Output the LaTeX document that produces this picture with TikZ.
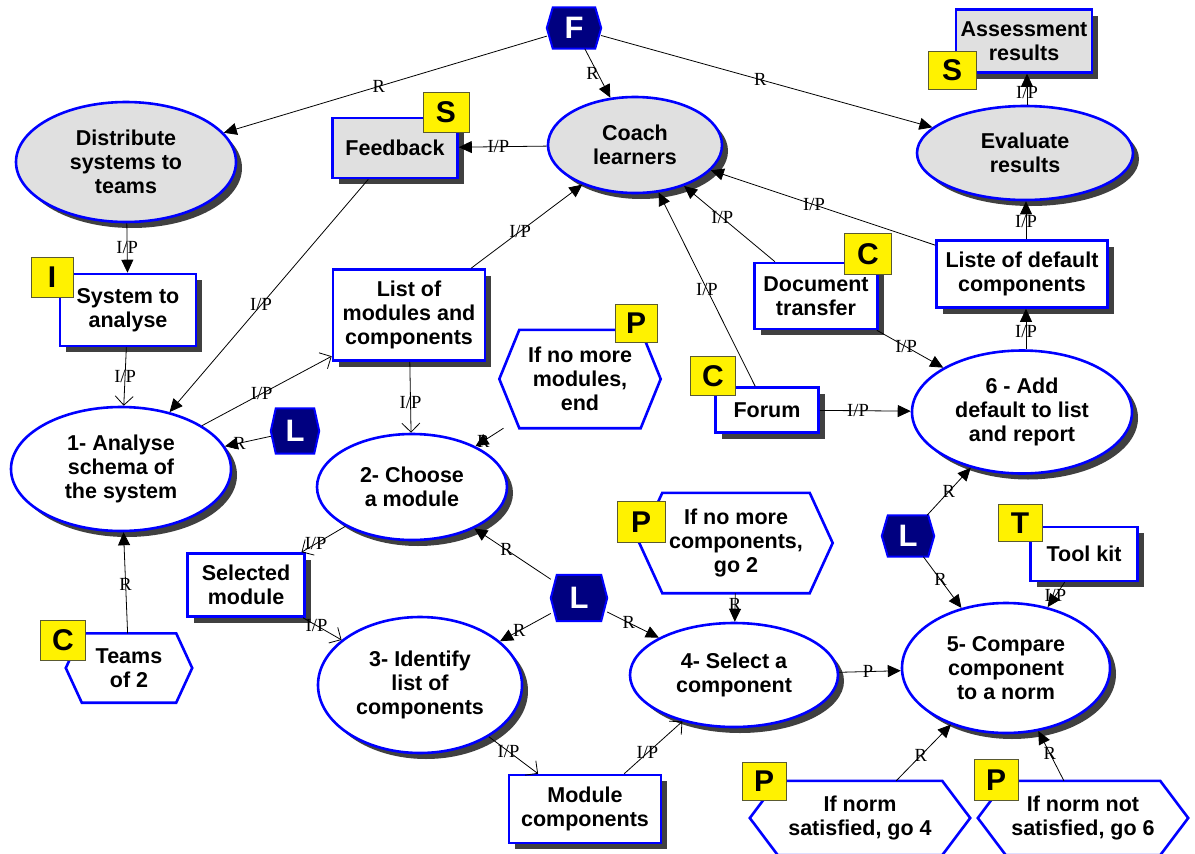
\documentclass[tikz,border=0pt]{standalone}
\usepackage{fontspec}
\setmainfont{Liberation Sans}
\newfontfamily\lblfont{Liberation Serif}
\usetikzlibrary{shapes.geometric,shadows,arrows.meta,backgrounds}
\definecolor{shgray}{HTML}{404040}
\definecolor{procgray}{HTML}{E0E0E0}
\definecolor{navyfill}{HTML}{000080}
\definecolor{boxblue}{HTML}{0000FF}
\definecolor{tagedge}{HTML}{5A5A30}
\newcommand{\hexoutline}[3]{%
  \draw[#3] (#1.west) -- ([xshift=#2]#1.north west) -- ([xshift=-#2]#1.north east)
    -- (#1.east) -- ([xshift=-#2]#1.south east) -- ([xshift=#2]#1.south west) -- cycle;}
\begin{document}
\begin{tikzpicture}[x=1pt,y=-1pt,
  txt/.style={font=\fontsize{21.5}{24}\selectfont\bfseries, align=center, text=black},
  shad/.style={drop shadow={shadow xshift=6pt, shadow yshift=-6pt, fill=shgray, opacity=1, draw=none}},
  procw/.style={ellipse, draw=boxblue, line width=2.6pt, fill=white, inner sep=0pt, txt, shad},
  procg/.style={procw, fill=procgray},
  boxw/.style={rectangle, draw=boxblue, line width=2.6pt, fill=white, inner sep=0pt, txt, shad},
  boxg/.style={boxw, fill=procgray},
  hexn/.style={rectangle, inner sep=0pt, txt},
  hexline/.style={draw=boxblue, line width=2.6pt, fill=white, line join=miter},
  dhexn/.style={rectangle, inner sep=0pt, text=white, font=\fontsize{31}{31}\selectfont\bfseries},
  dhexline/.style={draw=boxblue, line width=2pt, fill=navyfill},
  tag/.style={rectangle, draw=tagedge, line width=0.9pt, fill=yellow, inner sep=0pt, text=black, font=\fontsize{30}{30}\selectfont\bfseries},
  con/.style={draw=black, line width=0.8pt},
  fa/.style={con, -{Triangle[length=13pt,width=12pt]}},
  oa/.style={con, -{Straight Barb[length=9pt,width=18pt,line width=0.8pt]}},
  lbl/.style={font=\lblfont\fontsize{18.5}{18.5}\selectfont, inner sep=0pt, text=black},
]
\useasboundingbox (0,0) rectangle (1195,854);

% ---------- processes (ellipses)
\node[procg, minimum width=220pt, minimum height=120pt] (dist) at (126,162) {Distribute\\systems to\\teams};
\node[procg, minimum width=174pt, minimum height=96pt] (coach) at (635,145) {Coach\\learners};
\node[procg, minimum width=216pt, minimum height=94pt] (eval) at (1025,153) {Evaluate\\results};
\node[procw, minimum width=220pt, minimum height=124pt] (analyse) at (121,469) {1- Analyse\\schema of\\the system};
\node[procw, minimum width=190pt, minimum height=106pt] (choose) at (412,487) {2- Choose\\a module};
\node[procw, minimum width=204pt, minimum height=136pt] (ident) at (420,685) {3- Identify\\list of\\components};
\node[procw, minimum width=208pt, minimum height=104pt] (select) at (734,675) {4- Select a\\component};
\node[procw, minimum width=208pt, minimum height=130pt] (compare) at (1006,668) {5- Compare\\component\\to a norm};
\node[procw, minimum width=220pt, minimum height=123pt] (adddef) at (1022,412) {6 - Add\\default to list\\and report};

% ---------- boxes
\node[boxg, minimum width=125pt, minimum height=60pt] (feedback) at (395,148) {Feedback};
\node[boxg, minimum width=136pt, minimum height=63pt] (assess) at (1024,41) {Assessment\\results};
\node[boxw, minimum width=136pt, minimum height=72pt] (system) at (128,310) {System to\\analyse};
\node[boxw, minimum width=152pt, minimum height=91pt] (listmod) at (409,315) {List of\\modules and\\components};
\node[boxw, minimum width=123pt, minimum height=66pt] (doctr) at (816,296) {Document\\transfer};
\node[boxw, minimum width=171pt, minimum height=67pt] (liste) at (1022,274) {Liste of default\\components};
\node[boxw, minimum width=103pt, minimum height=45pt] (forum) at (767,410) {Forum};
\node[boxw, minimum width=117pt, minimum height=63pt] (selmod) at (246,585) {Selected\\module};
\node[boxw, minimum width=152pt, minimum height=68pt] (modcomp) at (585,809) {Module\\components};
\node[boxw, minimum width=107pt, minimum height=54pt] (toolkit) at (1084,554) {Tool kit};

% ---------- hexagon nodes
\node[hexn, minimum width=161pt, minimum height=98pt] (hexmod) at (580,379) {If no more\\modules,\\end};
\node[hexn, minimum width=193pt, minimum height=100pt] (hexcomp) at (736,543) {If no more\\components,\\go 2};
\node[hexn, minimum width=126pt, minimum height=69pt] (teams) at (129,668) {Teams\\of 2};
\node[hexn, minimum width=220pt, minimum height=74pt] (normsat) at (860,818) {If norm\\satisfied, go 4};
\node[hexn, minimum width=210pt, minimum height=74pt] (normnot) at (1083,818) {If norm not\\satisfied, go 6};

\node[dhexn, minimum width=54pt, minimum height=41pt] (F) at (574,28) {F};
\node[dhexn, minimum width=48pt, minimum height=45pt] (L1) at (295,431) {L};
\node[dhexn, minimum width=56pt, minimum height=46pt] (L2) at (579,598) {L};
\node[dhexn, minimum width=52pt, minimum height=41pt] (L3) at (908,536) {L};

\begin{scope}[on background layer]
\fill[white] (0,0) rectangle (1195,854);
\hexoutline{hexmod}{20pt}{hexline}
\hexoutline{hexcomp}{23pt}{hexline}
\hexoutline{teams}{16pt}{hexline}
\hexoutline{normsat}{28pt}{hexline}
\hexoutline{normnot}{28pt}{hexline}
\hexoutline{F}{6pt}{dhexline}
\hexoutline{L1}{5pt}{dhexline}
\hexoutline{L2}{6pt}{dhexline}
\hexoutline{L3}{6pt}{dhexline}
\end{scope}

% ---------- connectors
\draw[fa] (F) -- node[lbl,pos=0.52]{R} (dist);
\draw[fa] (F) -- node[lbl,pos=0.5,xshift=-5pt]{R} (coach);
\draw[fa] (F) -- node[lbl,pos=0.48]{R} (eval);
\draw[fa] (coach) -- node[lbl,pos=0.55]{I/P} (feedback);
\draw[fa] (feedback) -- node[lbl,pos=0.54]{I/P} (analyse);
\draw[fa] (dist) -- node[lbl,pos=0.48]{I/P} (system);
\draw[oa] (system) -- node[lbl]{I/P} (analyse);
\draw[oa] (analyse) -- node[lbl,pos=0.46]{I/P} (listmod);
\draw[fa] (L1) -- node[lbl,pos=0.68]{R} (analyse);
\draw[fa] (listmod) -- node[lbl,pos=0.44]{I/P} (coach);
\draw[oa] (listmod) -- node[lbl,pos=0.57]{I/P} (choose);
\draw[fa] (hexmod) -- node[lbl,pos=0.72]{R} (choose);
\draw[oa] (choose) -- node[lbl,pos=0.68]{I/P} (selmod);
\draw[oa] (selmod) -- node[lbl,pos=0.35]{I/P} (ident);
\draw[fa] (teams) -- node[lbl,pos=0.48]{R} (analyse);
\draw[fa] (L2) -- node[lbl,pos=0.58]{R} (choose);
\draw[fa] (L2) -- node[lbl,pos=0.62]{R} (ident);
\draw[fa] (L2) -- node[lbl,pos=0.42]{R} (select);
\draw[fa] (hexcomp) -- node[lbl,pos=0.4]{R} (select);
\draw[oa] (ident) -- node[lbl,pos=0.4]{I/P} (modcomp);
\draw[oa] (modcomp) -- node[lbl,pos=0.4]{I/P} (select);
\draw[fa] (select) -- node[lbl,pos=0.47]{P} (compare);
\draw[fa] (forum) -- node[lbl]{I/P} (coach);
\draw[fa] (doctr) -- node[lbl,pos=0.58]{I/P} (coach);
\draw[fa] (liste) -- node[lbl,pos=0.54]{I/P} (coach);
\draw[fa] (doctr) -- node[lbl,pos=0.44]{I/P} (adddef);
\draw[fa] (forum) -- node[lbl,pos=0.42]{I/P} (adddef);
\draw[fa] ([xshift=4pt]adddef.north) -- node[lbl,pos=0.44]{I/P} ([xshift=4pt]liste.south);
\draw[fa] ([xshift=4pt]liste.north) -- node[lbl,pos=0.48]{I/P} ([xshift=1pt]eval.south);
\draw[fa] ([xshift=2pt]eval.north) -- node[lbl,pos=0.4]{I/P} ([xshift=3pt]assess.south);
\draw[fa] (L3) -- node[lbl]{R} (adddef);
\draw[fa] (L3) -- node[lbl,pos=0.45]{R} (compare);
\draw[fa] (toolkit) -- node[lbl,pos=0.55]{I/P} (compare);
\draw[fa] (normsat) -- node[lbl,pos=0.45]{R} (compare);
\draw[fa] (normnot) -- node[lbl,pos=0.55]{R} (compare);

% ---------- tags
\node[tag, minimum width=46pt, minimum height=40pt] (tagS1) at (446,112) {S};
\node[tag, minimum width=48pt, minimum height=38pt] (tagS2) at (952,70) {S};
\node[tag, minimum width=42pt, minimum height=40pt] (tagI) at (52,277) {I};
\node[tag, minimum width=47pt, minimum height=41pt] (tagC1) at (868,254) {C};
\node[tag, minimum width=45pt, minimum height=39pt] (tagC2) at (713,376) {C};
\node[tag, minimum width=42pt, minimum height=38pt] (tagP1) at (636,323) {P};
\node[tag, minimum width=48pt, minimum height=41pt] (tagP2) at (641,522) {P};
\node[tag, minimum width=45pt, minimum height=40pt] (tagC3) at (63,640) {C};
\node[tag, minimum width=44pt, minimum height=37pt] (tagT) at (1020,523) {T};
\node[tag, minimum width=44pt, minimum height=38pt] (tagP3) at (764,781) {P};
\node[tag, minimum width=44pt, minimum height=41pt] (tagP4) at (996,780) {P};
\end{tikzpicture}
\end{document}
